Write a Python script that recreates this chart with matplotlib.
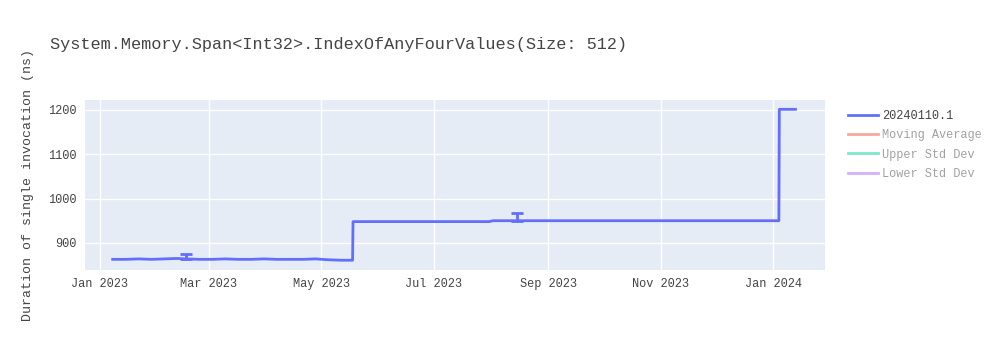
import pandas as pd
import matplotlib.pyplot as plt
import matplotlib.dates as mdates
from matplotlib.lines import Line2D

# data
dates = ['2023-01-08', '2023-01-15', '2023-01-22', '2023-01-29', '2023-02-05',
         '2023-02-12', '2023-02-17', '2023-02-24', '2023-03-03', '2023-03-10',
         '2023-03-17', '2023-03-24', '2023-03-31', '2023-04-07', '2023-04-14',
         '2023-04-21', '2023-04-28', '2023-05-05', '2023-05-12', '2023-05-18 00:00',
         '2023-05-18 06:00', '2023-06-01', '2023-06-15', '2023-07-01', '2023-07-15',
         '2023-07-31', '2023-08-02', '2023-08-15', '2023-08-29', '2023-09-12',
         '2023-09-26', '2023-10-10', '2023-10-24', '2023-11-07', '2023-11-21',
         '2023-12-05', '2023-12-19', '2024-01-04 00:00', '2024-01-04 06:00', '2024-01-10',
         '2024-01-13']
values = [863, 863, 864, 863, 864,
          865, 864, 863, 863, 864,
          863, 863, 864, 863, 863,
          863, 864, 862, 861, 861,
          948, 948, 948, 948, 948,
          948, 950, 950, 950, 950,
          950, 950, 950, 950, 950,
          950, 950, 950, 1201, 1201,
          1201]
# upper error bars, only the visible ones
err_up = [0, 0, 0, 0, 0,
          0, 12, 0, 0, 0,
          0, 0, 0, 0, 0,
          0, 0, 0, 0, 0,
          0, 0, 0, 0, 0,
          0, 0, 17, 0, 0,
          0, 0, 0, 0, 0,
          0, 0, 0, 0, 0,
          0]

series_name = '20240110.1'
legend_names = ['Moving Average', 'Upper Std Dev', 'Lower Std Dev']
legend_colors = ['#EF553B', '#00CC96', '#AB63FA']

df = pd.DataFrame({'date': pd.to_datetime(dates, format='mixed'), 'value': values, 'err': err_up})
spikes = df[df['err'] > 0]

plt.rcParams['font.family'] = ['Liberation Mono', 'DejaVu Sans Mono']

fig = plt.figure(figsize=(10, 3.5), dpi=100)
ax = fig.add_axes([0.085, 0.2286, 0.74, 0.4857])
ax.set_facecolor('#E5ECF6')

ax.plot(df['date'], df['value'], color='#636EFA', linewidth=2)
ax.errorbar(spikes['date'], spikes['value'], yerr=[[0] * len(spikes), spikes['err']],
            fmt='none', ecolor='#636EFA', elinewidth=2, capsize=4, capthick=2)

ax.set_xlim(pd.Timestamp('2022-12-24'), pd.Timestamp('2024-01-29'))
ax.set_ylim(839, 1222)
ax.set_yticks([900, 1000, 1100, 1200])
ax.xaxis.set_major_locator(mdates.MonthLocator(bymonth=[1, 3, 5, 7, 9, 11]))
ax.xaxis.set_major_formatter(mdates.DateFormatter('%b %Y'))

ax.grid(True, color='white', linewidth=1)
ax.set_axisbelow(True)
for s in ax.spines.values():
    s.set_visible(False)
ax.tick_params(length=0, labelsize=8.6, colors='#444444', pad=6)

ax.set_ylabel('Duration of single invocation (ns)', fontsize=9.5, color='#444444', labelpad=10)
fig.text(0.05, 1 - 45 / 350, 'System.Memory.Span<Int32>.IndexOfAnyFourValues(Size: 512)',
         fontsize=12.2, color='#444444', va='center')

handles = [Line2D([], [], color='#636EFA', linewidth=2)]
handles += [Line2D([], [], color=c, linewidth=2, alpha=0.5) for c in legend_colors]
leg = fig.legend(handles, [series_name] + legend_names, loc='upper left',
                 bbox_to_anchor=(0.837, 0.717), frameon=False, fontsize=8.6,
                 handlelength=2.5, handletextpad=0.4, labelspacing=0.62)
for i, t in enumerate(leg.get_texts()):
    t.set_color('#444444')
    if i > 0:
        t.set_alpha(0.5)

fig.savefig('out.png', dpi=100)
